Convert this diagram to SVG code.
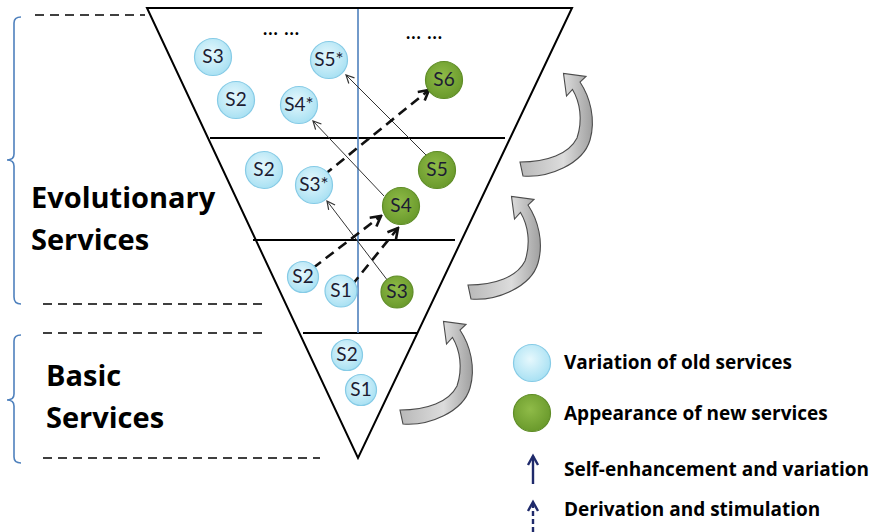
<svg xmlns="http://www.w3.org/2000/svg" width="870" height="532" viewBox="0 0 870 532">
<defs>
  <radialGradient id="gBlue" cx="0.45" cy="0.4" r="0.6">
    <stop offset="0" stop-color="#e6f8fd"/>
    <stop offset="1" stop-color="#a9e1f3"/>
  </radialGradient>
  <radialGradient id="gGreen" cx="0.45" cy="0.4" r="0.6">
    <stop offset="0" stop-color="#8fbb48"/>
    <stop offset="1" stop-color="#6a9a2c"/>
  </radialGradient>
  <linearGradient id="gGray" x1="0" y1="0" x2="1" y2="0">
    <stop offset="0" stop-color="#b8b8b8"/>
    <stop offset="0.6" stop-color="#dcdcdc"/>
    <stop offset="1" stop-color="#a0a0a0"/>
  </linearGradient>
  <marker id="mThin" markerWidth="10" markerHeight="10" refX="9" refY="5" orient="auto" markerUnits="userSpaceOnUse">
    <path d="M1,1 L9,5 L1,9" fill="none" stroke="#333" stroke-width="1.2"/>
  </marker>
  <marker id="mDash" markerWidth="14" markerHeight="14" refX="12" refY="7" orient="auto" markerUnits="userSpaceOnUse">
    <path d="M2,1.5 L12,7 L2,12.5" fill="none" stroke="#111" stroke-width="2.6"/>
  </marker>
  <marker id="mNavy" markerWidth="14" markerHeight="14" refX="11" refY="7" orient="auto" markerUnits="userSpaceOnUse">
    <path d="M2,2 L11,7 L2,12" fill="none" stroke="#1f2a6b" stroke-width="2.4"/>
  </marker>
  <path id="curveArrow" d="M4,104 C30,106 64,92 71,68 C77,47 71,25 61,10 L67,4.5 L44.5,1.5 L47.5,24 L53.5,17.5 C61,30 64,48 58,66 C50,82 28,90 1,90 Z"/>
</defs>
<style>
  .blue { fill: url(#gBlue); stroke: #86cbe6; stroke-width: 1.2; }
  .green { fill: url(#gGreen); stroke: #5f8d27; stroke-width: 1.2; }
  .lbl { font-family: Lato, "Liberation Sans", sans-serif; font-size: 19px; fill: #1c1c33; text-anchor: middle; }
  .frame { fill: none; stroke: #000; stroke-width: 2; }
  .tier { stroke: #000; stroke-width: 2; }
  .thin { fill: none; stroke: #333; stroke-width: 1; marker-end: url(#mThin); }
  .dash { fill: none; stroke: #111; stroke-width: 2.6; stroke-dasharray: 10 6; marker-end: url(#mDash); }
  .ldash { stroke: #000; stroke-width: 1.6; stroke-dasharray: 9 6; }
  .brace { fill: none; stroke: #4f81bd; stroke-width: 1.6; }
  .big { font-family: "Open Sans", "Liberation Sans", sans-serif; font-weight: bold; font-size: 29px; fill: #000; }
  .leg { font-family: "Open Sans", "Liberation Sans", sans-serif; font-weight: bold; font-size: 19px; fill: #000; }
  .dots { font-family: Lato, "Liberation Sans", sans-serif; font-weight: bold; font-size: 18px; fill: #000; letter-spacing: 1px; }
  .carrow { fill: url(#gGray); stroke: #4a4a4a; stroke-width: 1.1; }
  .navy { stroke: #1f2a6b; stroke-width: 2.4; fill: none; marker-end: url(#mNavy); }
</style>
<rect width="870" height="532" fill="#fff"/>

<g id="left-labels">
  <line class="ldash" x1="35" y1="15" x2="145" y2="15"/>
  <line class="ldash" x1="43" y1="304" x2="268" y2="304"/>
  <line class="ldash" x1="43" y1="333" x2="268" y2="333"/>
  <line class="ldash" x1="43" y1="458" x2="320" y2="458"/>
  <path class="brace" d="M21,17 Q14,17 14,23 L14,154 Q14,160 7,160 Q14,160 14,166 L14,297 Q14,304 21,304"/>
  <path class="brace" d="M21,335 Q14,335 14,341 L14,394 Q14,400 7,400 Q14,400 14,406 L14,457 Q14,463 21,463"/>
  <text class="big" x="31" y="208">Evolutionary</text>
  <text class="big" x="31" y="250">Services</text>
  <text class="big" x="46" y="386">Basic</text>
  <text class="big" x="46" y="428">Services</text>
</g>

<g id="pyramid">
  <path class="frame" d="M147,8 L572,8 L358,458 Z"/>
  <line class="tier" x1="210" y1="138" x2="505" y2="138"/>
  <line class="tier" x1="253" y1="240" x2="455" y2="240"/>
  <line class="tier" x1="303" y1="333" x2="417" y2="333"/>
  <line x1="358" y1="9" x2="358" y2="333" stroke="#4f81bd" stroke-width="1.6"/>
  <text class="dots" x="263" y="35">... ...</text>
  <text class="dots" x="406" y="39">... ...</text>
</g>

<g id="connectors">
  <line class="thin" x1="388" y1="281" x2="327" y2="201"/>
  <line class="thin" x1="384" y1="196" x2="313" y2="121"/>
  <line class="thin" x1="429" y1="158" x2="346" y2="75"/>
  <line class="dash" x1="324" y1="175" x2="429" y2="90"/>
  <line class="dash" x1="313" y1="268" x2="381" y2="216"/>
  <line class="dash" x1="352" y1="285" x2="398" y2="228"/>
</g>

<g id="n-top-s3"><circle class="blue" cx="213" cy="57" r="18.5"/><text class="lbl" x="213" y="63">S3</text></g>
<g id="n-top-s2"><circle class="blue" cx="236" cy="100" r="18.5"/><text class="lbl" x="236" y="106">S2</text></g>
<g id="n-s5star"><circle class="blue" cx="329" cy="60" r="18.5"/><text class="lbl" x="329" y="66">S5*</text></g>
<g id="n-s4star"><circle class="blue" cx="299" cy="105" r="18.5"/><text class="lbl" x="299" y="111">S4*</text></g>
<g id="n-s6"><circle class="green" cx="444" cy="80" r="18.5"/><text class="lbl" x="444" y="86">S6</text></g>
<g id="n-mid-s2"><circle class="blue" cx="264" cy="170" r="18.5"/><text class="lbl" x="264" y="176">S2</text></g>
<g id="n-s3star"><circle class="blue" cx="314" cy="185" r="18.5"/><text class="lbl" x="314" y="191">S3*</text></g>
<g id="n-s5"><circle class="green" cx="437" cy="170" r="18.5"/><text class="lbl" x="437" y="176">S5</text></g>
<g id="n-s4"><circle class="green" cx="401" cy="206" r="18.5"/><text class="lbl" x="401" y="212">S4</text></g>
<g id="n-low-s2"><circle class="blue" cx="303" cy="277" r="15.5"/><text class="lbl" x="303" y="283">S2</text></g>
<g id="n-low-s1"><circle class="blue" cx="341" cy="291" r="16"/><text class="lbl" x="341" y="297">S1</text></g>
<g id="n-s3"><circle class="green" cx="397" cy="292" r="16"/><text class="lbl" x="397" y="298">S3</text></g>
<g id="n-base-s2"><circle class="blue" cx="347" cy="355" r="15.5"/><text class="lbl" x="347" y="361">S2</text></g>
<g id="n-base-s1"><circle class="blue" cx="361" cy="390" r="15.5"/><text class="lbl" x="361" y="396">S1</text></g>

<g id="curved-arrows">
  <use href="#curveArrow" class="carrow" transform="translate(399,320)"/>
  <use href="#curveArrow" class="carrow" transform="translate(467,195)"/>
  <use href="#curveArrow" class="carrow" transform="translate(519,72)"/>
</g>

<g id="legend">
  <circle class="blue" cx="532" cy="363" r="18.5"/>
  <text class="leg" x="564" y="369">Variation of old services</text>
  <circle class="green" cx="532" cy="413" r="18.5"/>
  <text class="leg" x="564" y="420">Appearance of new services</text>
  <line class="navy" x1="533" y1="484" x2="533" y2="456"/>
  <text class="leg" x="564" y="476">Self-enhancement and variation</text>
  <line class="navy" x1="533" y1="532" x2="533" y2="502" stroke-dasharray="5 3"/>
  <text class="leg" x="564" y="516">Derivation and stimulation</text>
</g>
</svg>
